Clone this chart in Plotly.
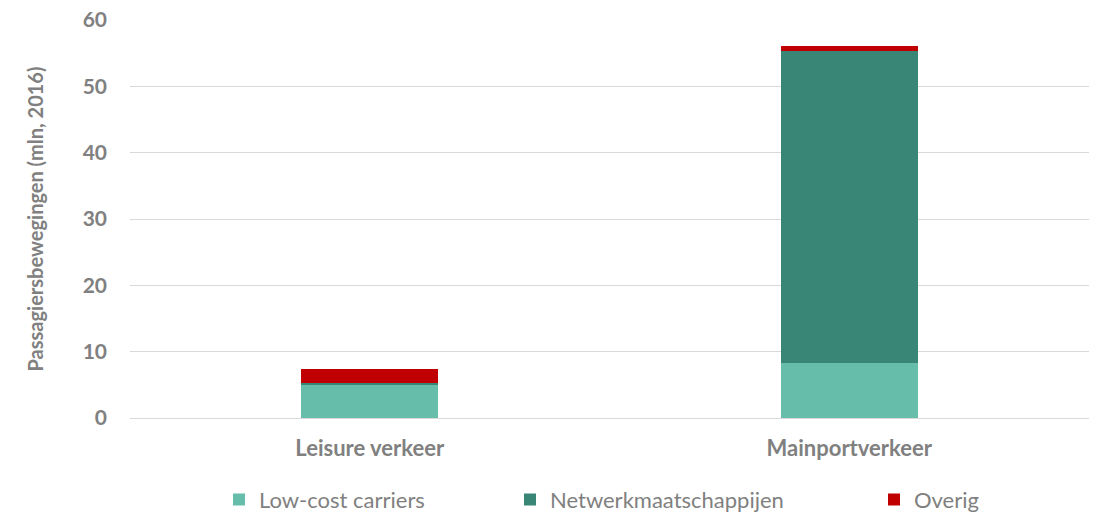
import plotly.graph_objects as go

categories = ["Leisure verkeer", "Mainportverkeer"]
series_names = ["Low-cost carriers", "Netwerkmaatschappijen", "Overig"]
low_cost = [5.0, 8.3]
netwerk = [0.3, 47.0]
overig = [2.1, 0.8]
colors = ["#66BDA9", "#3A8676", "#C00000"]
y_ticks = [0, 10, 20, 30, 40, 50, 60]

FONT = "Lato"
GRAY = "#808080"

fig = go.Figure()
values = [low_cost, netwerk, overig]
legends = ["legend", "legend2", "legend3"]
for name, vals, col, lg in zip(series_names, values, colors, legends):
    fig.add_trace(go.Bar(x=categories, y=vals, name=name, marker=dict(color=col, line=dict(width=0)),
                         legend=lg, showlegend=True))

leg_common = dict(orientation="h", yanchor="middle", y=-0.205, xanchor="left",
                  font=dict(family=FONT, size=22, color=GRAY), bgcolor="rgba(0,0,0,0)",
                  itemwidth=30, visible=True)
fig.update_layout(
    width=1094, height=512,
    margin=dict(l=130, r=5, t=20, b=94, autoexpand=False),
    showlegend=True,
    barmode="stack", bargap=0.714,
    plot_bgcolor="white", paper_bgcolor="white",
    legend=dict(x=(219 - 130) / 959, **leg_common),
    legend2=dict(x=(510 - 130) / 959, **leg_common),
    legend3=dict(x=(874 - 130) / 959, **leg_common),
    xaxis=dict(tickfont=dict(family=FONT, size=22, color=GRAY, weight="bold"), showline=False,
               ticks="", ticklabelstandoff=15, automargin=False),
    yaxis=dict(range=[0, 60], tickvals=y_ticks, showgrid=True, gridcolor="#D9D9D9", gridwidth=1,
               zeroline=True, zerolinecolor="#D9D9D9", zerolinewidth=1,
               tickfont=dict(family=FONT, size=21, color=GRAY, weight="bold"), ticklen=0,
               ticks="", ticklabelstandoff=22, automargin=False,
               title=dict(text="Passagiersbewegingen (mln, 2016)", standoff=33,
                          font=dict(family=FONT, size=20, color=GRAY, weight="bold"))),
)
fig.write_html("out.html", config={"displayModeBar": False},
               post_script="document.body.style.margin='0';")
